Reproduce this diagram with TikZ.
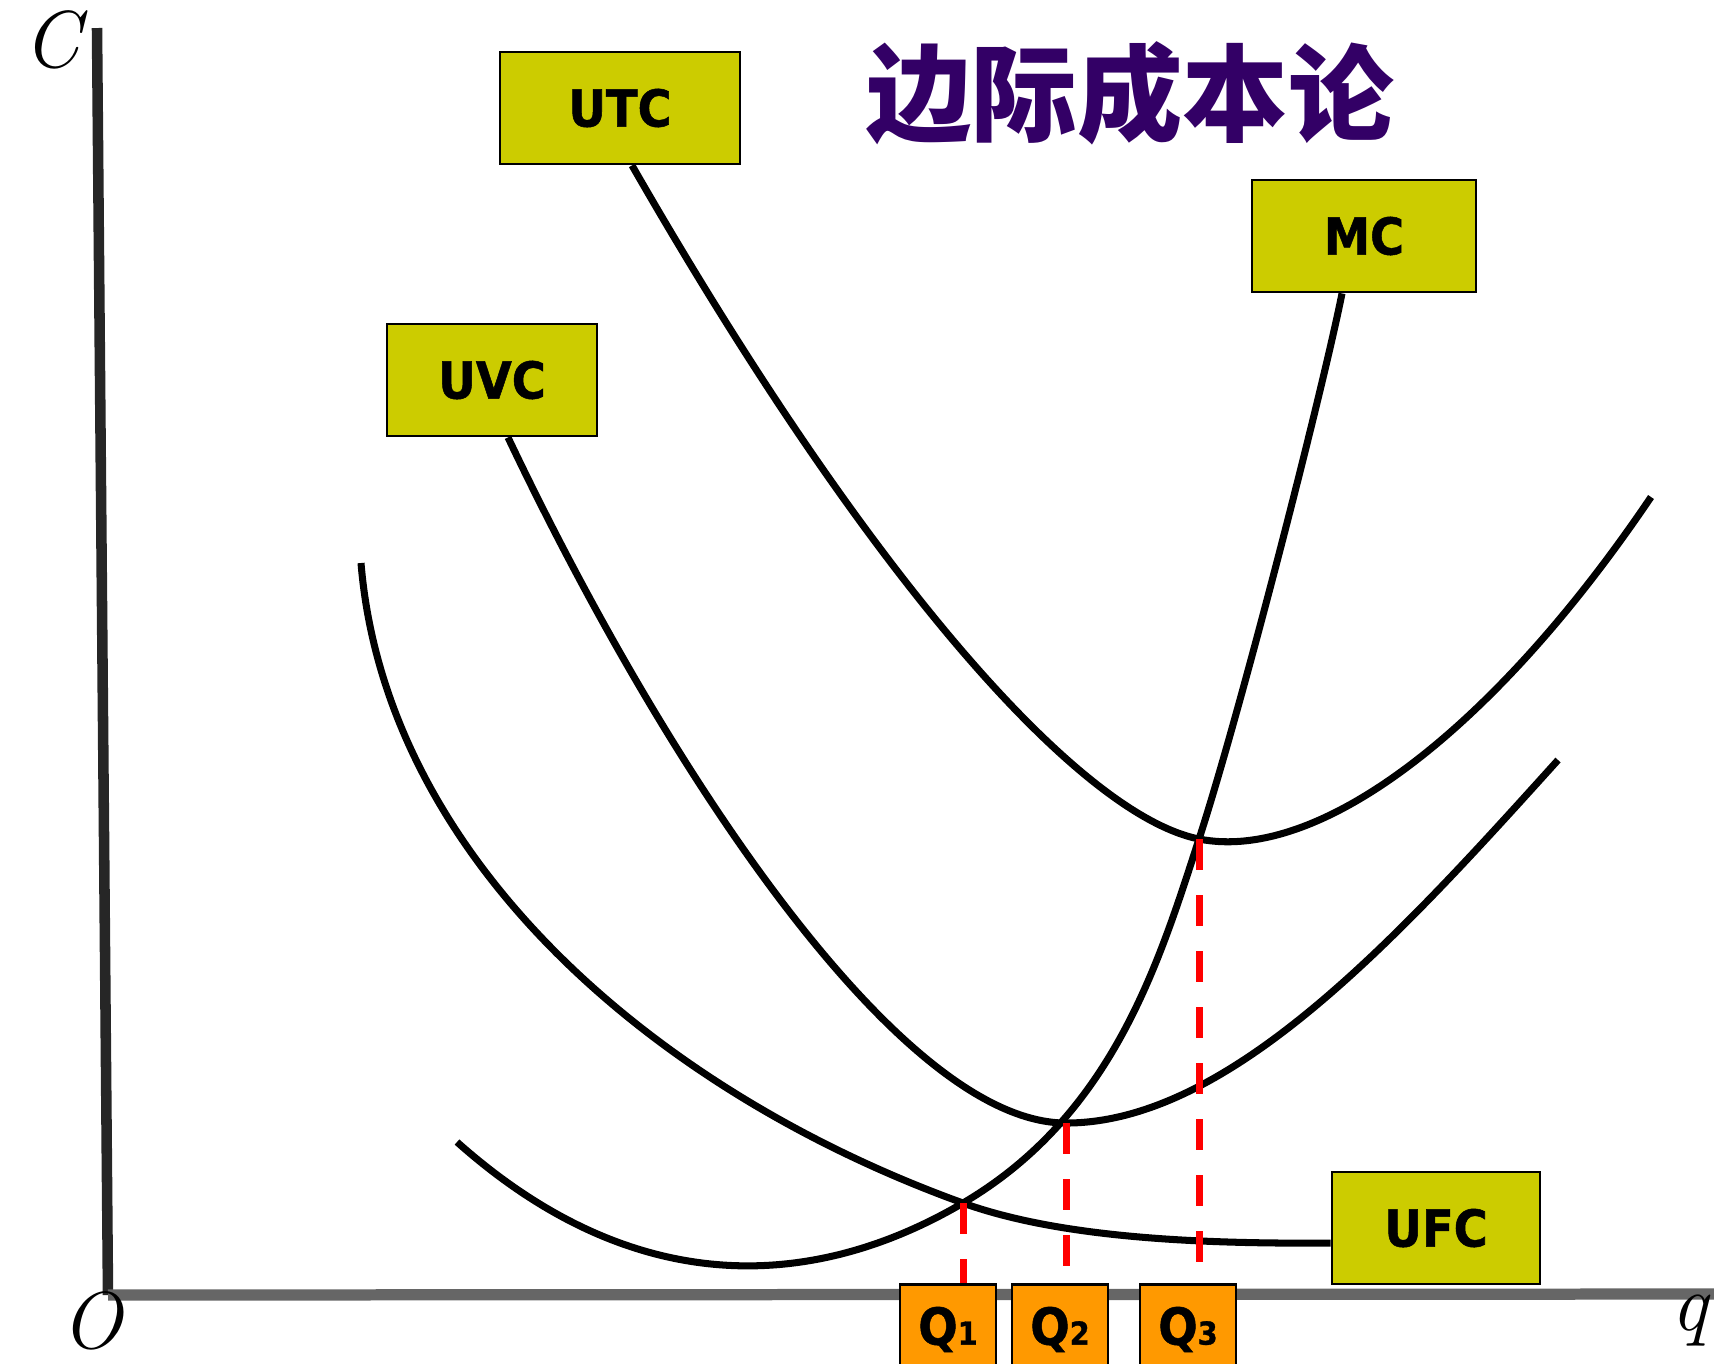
\documentclass[tikz,border=0pt]{standalone}
\usepackage{fontspec}
\newfontfamily\boxfont[FakeStretch=0.91,BoldFeatures={FakeBold=1}]{DejaVu Sans}
\newfontfamily\cjk{Noto Sans CJK SC}
\usetikzlibrary{positioning}
\definecolor{boxyellow}{HTML}{CCCC00}
\definecolor{boxorange}{HTML}{FF9900}
\definecolor{titlepurple}{HTML}{330066}
\tikzstyle{costbox}=[rectangle,draw=black,fill=boxyellow,line width=0.8pt,minimum height=11.2mm,inner sep=0pt,font=\boxfont\bfseries\fontsize{14.5}{14.5}\selectfont]
\tikzstyle{qbox}=[rectangle,draw=black,fill=boxorange,line width=0.8pt,minimum width=9.6mm,minimum height=9mm,inner sep=0pt,anchor=north,font=\boxfont\bfseries\fontsize{14.5}{14.5}\selectfont]
\tikzstyle{curve}=[black,line width=2pt]
\tikzstyle{qline}=[red,line width=0.7mm,dash pattern=on 3.1mm off 2.5mm]
\tikzstyle{axislabel}=[font=\itshape\fontsize{23}{23}\selectfont,inner sep=0pt]

\begin{document}
\begin{tikzpicture}[x=0.1mm,y=-0.1mm]
\useasboundingbox (0,0) rectangle (1714,1363);
\clip (0,0) rectangle (1714,1363);

%axes
\coordinate (top) at (97,28);
\coordinate (o) at (108,1295);
\coordinate (right) at (1714,1294);
\draw[line width=3pt,black!85] (top) -- (o);
\draw[line width=3.2pt,black!60] (o) -- (right);
\node[axislabel] (c) at (52,40) {C};
\node[axislabel] (origin) at (92,1321) {O};
\node[axislabel] (q) at (1690,1320) {q};

%title
\node[font=\cjk\bfseries\fontsize{30}{30}\selectfont,text=titlepurple] (title) at (1130,93) {边际成本论};

%cost boxes
\foreach \pos/\name/\label/\w in {{(620,108)/utc/UTC/24mm}, {(492,380)/uvc/UVC/21mm}, {(1364,236)/mc/MC/22.4mm}, {(1436,1228)/ufc/UFC/20.8mm}}
    \node[costbox,minimum width=\w] (\name) at \pos {\label};

%crossings
\coordinate (m1) at (963,1203);
\coordinate (m2) at (1066,1123);
\coordinate (m3) at (1199,839);
\coordinate (utcend) at (1651,497);
\coordinate (uvcend) at (1558,760);
\coordinate (ufcstart) at (361,563);
\coordinate (mcstart) at (457,1142);

%UFC
\draw[curve] (ufcstart) .. controls (385,855) and (650,1090) .. (m1)
    .. controls (1060,1238) and (1200,1244) .. ([yshift=-1.5mm]ufc.west);
%UVC
\draw[curve] ([xshift=1.6mm]uvc.south) .. controls (665,768) and (900,1123) .. (m2)
    .. controls (1230,1123) and (1400,935) .. (uvcend);
%UTC
\draw[curve] ([xshift=1.2mm]utc.south) .. controls (870,580) and (1080,815) .. (m3)
    .. controls (1320,863) and (1495,728) .. (utcend);
%MC
\draw[curve] (mcstart) .. controls (640,1305) and (820,1287) .. (m1)
    .. controls (1113,1115) and (1159,962) .. (m3)
    .. controls (1240,713) and (1322,393) .. ([xshift=-2.2mm]mc.south);

%Q boxes
\foreach \x/\name/\n in {948/q1/1, 1060/q2/2, 1188/q3/3}
    \node[qbox] (\name) at (\x,1283) {Q{\fontsize{9}{9}\selectfont\n}};

\foreach \m/\name in {m1/q1, m2/q2, m3/q3}
    \draw[qline] (\m) -- (\m |- \name.north);

\end{tikzpicture}
\end{document}
